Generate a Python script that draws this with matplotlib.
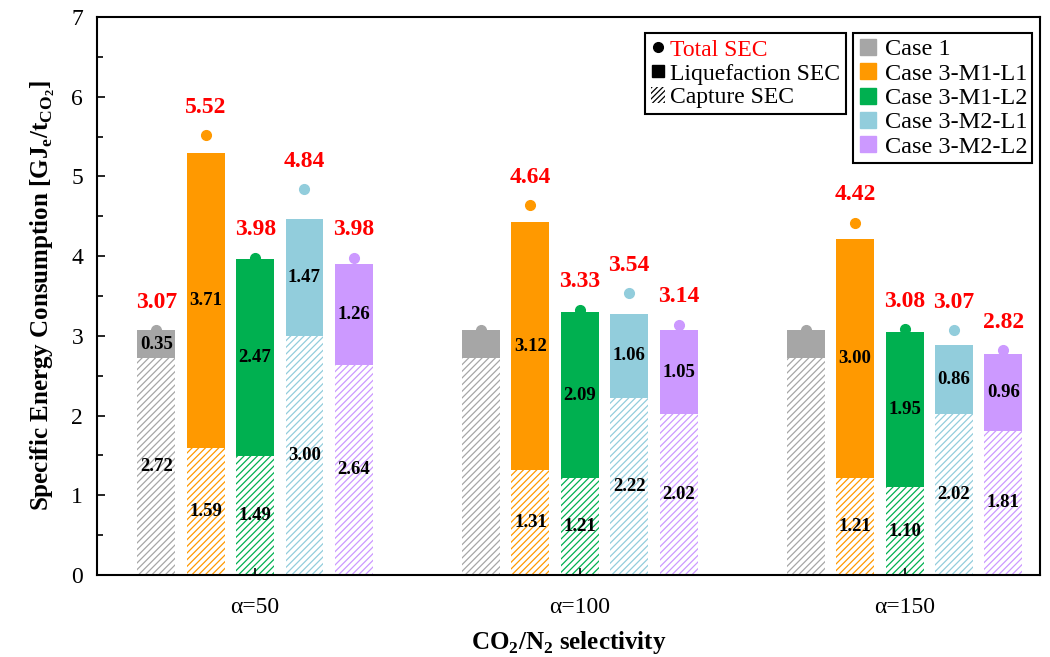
import numpy as np
import matplotlib
matplotlib.use("Agg")
import matplotlib.pyplot as plt
from matplotlib.lines import Line2D
from matplotlib.patches import Patch

plt.rcParams['font.family'] = ['Liberation Serif', 'DejaVu Serif']
plt.rcParams['mathtext.fontset'] = 'custom'
plt.rcParams['mathtext.rm'] = 'Liberation Serif'
plt.rcParams['mathtext.bf'] = 'Liberation Serif:bold'
plt.rcParams['hatch.linewidth'] = 0.9

groups = ['α=50', 'α=100', 'α=150']
cases = ['Case 1', 'Case 3-M1-L1', 'Case 3-M1-L2', 'Case 3-M2-L1', 'Case 3-M2-L2']
colors = ['#a6a6a6', '#ff9900', '#00b050', '#92cddc', '#cc99ff']

# rows = cases, columns = selectivity groups
capture = np.array([
    [2.72, 2.72, 2.72],
    [1.59, 1.31, 1.21],
    [1.49, 1.21, 1.10],
    [3.00, 2.22, 2.02],
    [2.64, 2.02, 1.81],
])
liquefaction = np.array([
    [0.35, 0.35, 0.35],
    [3.71, 3.12, 3.00],
    [2.47, 2.09, 1.95],
    [1.47, 1.06, 0.86],
    [1.26, 1.05, 0.96],
])
total = np.array([
    [3.07, 3.07, 3.07],
    [5.52, 4.64, 4.42],
    [3.98, 3.33, 3.08],
    [4.84, 3.54, 3.07],
    [3.98, 3.14, 2.82],
])
# Case 1 only gets its numbers printed in the first group
show_labels = np.array([
    [True, False, False],
    [True, True, True],
    [True, True, True],
    [True, True, True],
    [True, True, True],
])

fig = plt.figure(figsize=(10.5, 6.57), dpi=100)
ax = fig.add_axes([0.0924, 0.125, 0.898, 0.849])

x = np.arange(len(groups))
step = 0.152
width = 0.117

for i, case in enumerate(cases):
    xs = x + (i - 2) * step
    c = colors[i]
    ax.bar(xs, capture[i], width, color='white', edgecolor=c, hatch='/////', linewidth=0)
    ax.bar(xs, liquefaction[i], width, bottom=capture[i], color=c, linewidth=0)
    ax.plot(xs, total[i], 'o', color=c, ms=7, zorder=3)
    for j in range(len(groups)):
        if not show_labels[i, j]:
            continue
        ax.text(xs[j], capture[i, j] / 2, f"{capture[i, j]:.2f}", ha='center', va='center',
                fontsize=13.5, fontweight='bold')
        ax.text(xs[j], capture[i, j] + liquefaction[i, j] / 2, f"{liquefaction[i, j]:.2f}",
                ha='center', va='center', fontsize=13.5, fontweight='bold')
        ax.annotate(f"{total[i, j]:.2f}", (xs[j], total[i, j]), xytext=(0, 20),
                    textcoords='offset points', ha='center', va='center',
                    fontsize=17, fontweight='bold', color='red')

ax.set_xlim(-0.487, 2.417)
ax.set_ylim(0, 7)
ax.set_xticks(x)
ax.set_xticklabels(groups, fontsize=17)
ax.set_yticks(range(8))
ax.set_yticks(np.arange(0.5, 7, 1), minor=True)
ax.tick_params(axis='both', which='both', direction='in', labelsize=17, width=1.2)
ax.tick_params(axis='y', which='major', length=6, pad=10)
ax.tick_params(axis='y', which='minor', length=4)
ax.tick_params(axis='x', length=5, pad=16)
for s in ax.spines.values():
    s.set_linewidth(1.5)

ax.set_ylabel(r'Specific Energy Consumption [GJ$_\mathbf{e}$/t$_\mathbf{CO_2}$]',
              fontsize=18, fontweight='bold', labelpad=10)
ax.set_xlabel(r'CO$_\mathbf{2}$/N$_\mathbf{2}$ selectivity', fontsize=18, fontweight='bold',
              labelpad=8)

# legend for the kind of SEC
kind_handles = [
    Line2D([], [], marker='o', color='black', ls='none', ms=7),
    Line2D([], [], marker='s', color='black', ls='none', ms=8),
    Patch(facecolor='white', edgecolor='black', hatch='//////', linewidth=0),
]
leg1 = ax.legend(kind_handles, ['Total SEC', 'Liquefaction SEC', 'Capture SEC'],
                 loc='upper left', bbox_to_anchor=(0.581, 0.971), borderaxespad=0,
                 fontsize=17, frameon=True, fancybox=False, edgecolor='black',
                 handlelength=0.6, handletextpad=0.2, labelspacing=0.1,
                 borderpad=0.25, framealpha=1)
leg1.get_frame().set_linewidth(1.5)
leg1.get_texts()[0].set_color('red')
ax.add_artist(leg1)

case_handles = [Line2D([], [], marker='s', color=c, ls='none', ms=11) for c in colors]
leg2 = ax.legend(case_handles, cases, loc='upper left', bbox_to_anchor=(0.802, 0.971),
                 borderaxespad=0, fontsize=17.5, frameon=True, fancybox=False,
                 edgecolor='black', handlelength=0.8, handletextpad=0.3,
                 labelspacing=0.1, borderpad=0.2, framealpha=1)
leg2.get_frame().set_linewidth(1.5)

fig.savefig('out.png', dpi=100)
